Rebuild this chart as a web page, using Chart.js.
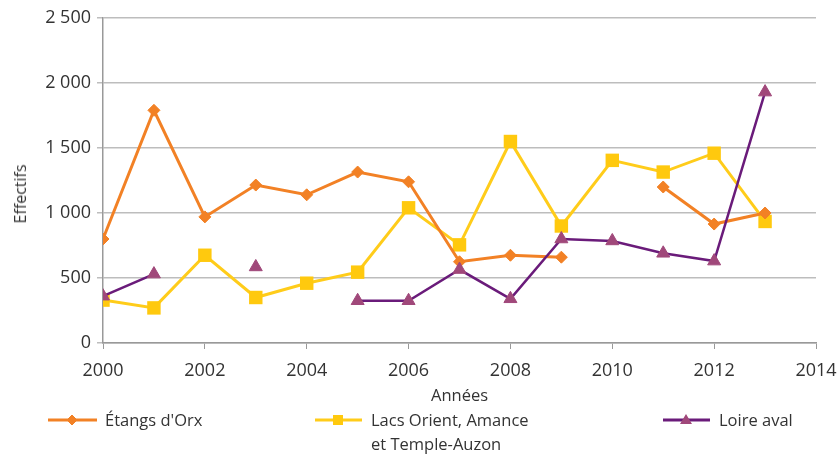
<!DOCTYPE html>
<html><head><meta charset="utf-8">
<script src="https://cdn.jsdelivr.net/npm/chart.js@4.4.1/dist/chart.umd.min.js"></script>
<style>
html,body{margin:0;padding:0;background:#fff;}
#wrap{position:relative;width:839px;height:457px;font-family:"Open Sans",sans-serif;color:#333;}
canvas{position:absolute;left:0;top:0;}
.leg{position:absolute;font-size:16.5px;line-height:24px;color:#333;}
.leg svg{position:absolute;}
#ytitle{position:absolute;left:20px;top:194px;font-size:16px;color:#333;white-space:nowrap;transform:translate(-50%,-50%) rotate(-90deg);}
</style></head><body>
<div id="wrap">
<canvas id="c" width="839" height="457"></canvas>
<div id="ytitle">Effectifs</div>
<div class="leg" style="left:48px;top:408px;"><svg width="50" height="16" style="left:0;top:4px"><line x1="0" y1="8" x2="49" y2="8" stroke="#F28125" stroke-width="3"/><polygon points="24,3 29,8 24,13 19,8" fill="#F28125" stroke="#F28125" stroke-width="1"/></svg><span style="position:absolute;left:57px;top:0;white-space:nowrap">Étangs d'Orx</span></div>
<div class="leg" style="left:315px;top:408px;"><svg width="48" height="16" style="left:0;top:4px"><line x1="0" y1="8" x2="47" y2="8" stroke="#FFCC1A" stroke-width="3"/><rect x="18" y="3" width="10" height="10" fill="#FFC90E"/></svg><span style="position:absolute;left:56px;top:0;white-space:nowrap">Lacs Orient, Amance<br>et Temple-Auzon</span></div>
<div class="leg" style="left:663px;top:408px;"><svg width="48" height="16" style="left:0;top:4px"><line x1="0" y1="8" x2="47" y2="8" stroke="#6A1B7A" stroke-width="3"/><polygon points="23,2 29,12 17,12" fill="#A0487A"/></svg><span style="position:absolute;left:56px;top:0;white-space:nowrap">Loire aval</span></div>
</div>
<script>
const years = [2000,2001,2002,2003,2004,2005,2006,2007,2008,2009,2010,2011,2012,2013];
const orx   = [800,1790,970,1215,1140,1315,1240,625,675,660,null,1200,915,1000];
const lacs  = [330,270,675,350,460,545,1040,755,1550,900,1405,1315,1460,935];
const loire = [360,530,null,585,null,325,325,565,340,800,785,690,630,1930];
const yTicks = [0,500,1000,1500,2000,2500];
const xTicks = [2000,2002,2004,2006,2008,2010,2012,2014];

const pts = arr => years.map((x,i)=>({x:x,y:arr[i]}));
const fmt = v => String(v).replace(/\B(?=(\d{3})+(?!\d))/g,' ');
const FONT = '"Open Sans", sans-serif';
const TXT = '#333';

new Chart(document.getElementById('c'), {
  type:'line',
  data:{datasets:[
    {label:"Étangs d'Orx", data:pts(orx), borderColor:'#F28125', backgroundColor:'#F28125',
     borderWidth:3, pointStyle:'rectRot', pointRadius:6, pointBorderWidth:1, pointBorderColor:'#F28125', spanGaps:false, order:2},
    {label:"Lacs Orient, Amance et Temple-Auzon", data:pts(lacs), borderColor:'#FFCC1A', backgroundColor:'#FFC90E',
     borderWidth:3, pointStyle:'rect', pointRadius:9.5, pointBorderWidth:0, pointBorderColor:'#FFC90E', spanGaps:false, order:3},
    {label:"Loire aval", data:pts(loire), borderColor:'#6A1B7A', backgroundColor:'#A0487A',
     borderWidth:2.5, pointStyle:'triangle', pointRadius:7.5, pointBorderWidth:1, pointBorderColor:'#A0487A', spanGaps:false, order:1}
  ]},
  options:{
    responsive:false, animation:false, devicePixelRatio:1,
    layout:{padding:{left:0,right:23,top:18,bottom:51}},
    plugins:{legend:{display:false}, tooltip:{enabled:false}},
    elements:{line:{tension:0}},
    scales:{
      x:{type:'linear', min:2000, max:2014,
         afterBuildTicks: s => { s.ticks = xTicks.map(v=>({value:v})); },
         afterFit: s => { s.height = 63; s.paddingLeft = 0; s.paddingRight = 0; },
         grid:{drawOnChartArea:false, drawTicks:true, tickLength:6, color:'#999'},
         border:{color:'#999', width:1.5},
         ticks:{color:TXT, font:{family:FONT,size:18}, padding:11, maxRotation:0, callback:v=>String(v)},
         title:{display:true, text:'Années', color:TXT, font:{family:FONT,size:16.5}, padding:{top:0,bottom:0}}
      },
      y:{min:0, max:2500,
         afterBuildTicks: s => { s.ticks = yTicks.map(v=>({value:v})); },
         afterFit: s => { s.width = 103; s.paddingTop = 0; s.paddingBottom = 0; },
         grid:{color:'#BDBDBD', lineWidth:1.5, tickLength:6},
         border:{color:'#999', width:1.5},
         ticks:{color:TXT, font:{family:FONT,size:18}, padding:6, callback:v=>fmt(v)},
         title:{display:false}
      }
    }
  }
});
</script>
</body></html>
